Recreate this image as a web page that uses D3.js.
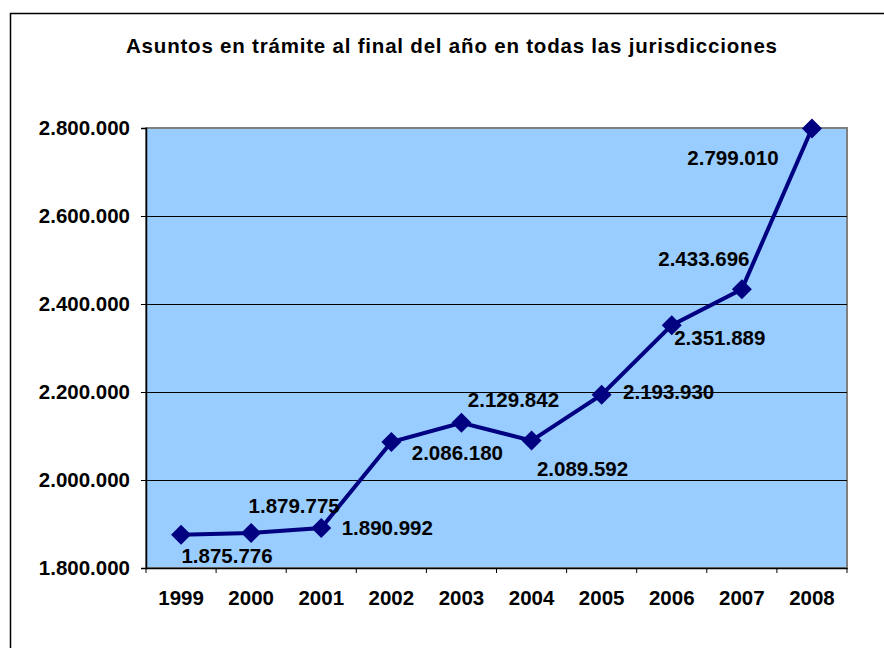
<!DOCTYPE html>
<meta charset="utf-8">
<style>
  body { margin: 0; background: #fff; }
  text { font-family: "Liberation Sans", Arial, sans-serif; font-weight: bold; fill: #000; }
</style>
<script src="https://d3js.org/d3.v7.min.js"></script>
<div id="chart"></div>
<script>
// data
var years = ["1999", "2000", "2001", "2002", "2003", "2004", "2005", "2006", "2007", "2008"];
var asuntos = [1875776, 1879775, 1890992, 2086180, 2129842, 2089592, 2193930, 2351889, 2433696, 2799010];
var yTicks = [1800000, 2000000, 2200000, 2400000, 2600000, 2800000];
var title = "Asuntos en trámite al final del año en todas las jurisdicciones";

// where Excel dropped each data label, relative to its point (dx to centre, dy to baseline)
var labelNudge = [[46, 28], [43, -20], [66, 7], [66, 18], [52, -16],
                  [51, 35], [67, 4], [48, 20], [-38, -23], [-79, 37]];

var W = 884, H = 648;
var plot = {left: 146, top: 128, right: 847, bottom: 568};

var svg = d3.select("#chart").append("svg")
  .attr("width", W).attr("height", H);

// outer chart frame (runs off the right and bottom)
svg.append("rect")
  .attr("x", 10.5).attr("y", 13.5)
  .attr("width", 900).attr("height", 700)
  .attr("fill", "none").attr("stroke", "#000").attr("stroke-width", 1.5);

var x = d3.scaleBand().domain(years).range([plot.left, plot.right]);
var y = d3.scaleLinear().domain([1800000, 2800000]).range([plot.bottom, plot.top]);

// plot area
svg.append("rect")
  .attr("x", plot.left).attr("y", plot.top)
  .attr("width", plot.right - plot.left).attr("height", plot.bottom - plot.top)
  .attr("fill", "#99ccff").attr("stroke", "#808080").attr("stroke-width", 2);

// gridlines
svg.append("g")
  .selectAll("line")
  .data(yTicks.slice(1, -1))
  .enter().append("line")
  .attr("x1", plot.left).attr("x2", plot.right)
  .attr("y1", function(d) { return Math.round(y(d)) + 0.5; })
  .attr("y2", function(d) { return Math.round(y(d)) + 0.5; })
  .attr("stroke", "#000").attr("stroke-width", 1);

var fmt = function(d) { return d3.format(",")(d).replace(/,/g, "."); };

// y axis
var yAxis = svg.append("g")
  .attr("transform", "translate(" + plot.left + ",0)")
  .call(d3.axisLeft(y).tickValues(yTicks).tickFormat(fmt).tickSize(5).tickPadding(11));
yAxis.selectAll("text").style("font-size", "20.5px");
yAxis.selectAll("line, path").attr("stroke", "#000");
yAxis.select(".domain").attr("stroke-width", 1.5);

// x axis
var xAxis = svg.append("g")
  .attr("transform", "translate(0," + plot.bottom + ")")
  .call(d3.axisBottom(x).tickSize(0).tickPadding(22));
xAxis.selectAll("text").style("font-size", "20.5px");
xAxis.select(".domain").attr("stroke", "#000").attr("stroke-width", 1.5);

// category separators on x axis
svg.append("g")
  .selectAll("line")
  .data(years.concat(["end"]))
  .enter().append("line")
  .attr("x1", function(d, i) { return plot.left + i * x.bandwidth(); })
  .attr("x2", function(d, i) { return plot.left + i * x.bandwidth(); })
  .attr("y1", plot.bottom).attr("y2", plot.bottom + 5)
  .attr("stroke", "#000");

var cx = function(i) { return x(years[i]) + x.bandwidth() / 2; };

// line
svg.append("path")
  .datum(asuntos)
  .attr("fill", "none")
  .attr("stroke", "#000080")
  .attr("stroke-width", 4)
  .attr("d", d3.line().x(function(d, i) { return cx(i); }).y(function(d) { return y(d); }));

// diamond markers
svg.append("g")
  .selectAll("path")
  .data(asuntos)
  .enter().append("path")
  .attr("transform", function(d, i) { return "translate(" + cx(i) + "," + y(d) + ")"; })
  .attr("d", "M0,-10L10,0L0,10L-10,0Z")
  .attr("fill", "#000080");

// data labels
svg.append("g")
  .selectAll("text")
  .data(asuntos)
  .enter().append("text")
  .attr("x", function(d, i) { return cx(i) + labelNudge[i][0]; })
  .attr("y", function(d, i) { return y(d) + labelNudge[i][1]; })
  .attr("text-anchor", "middle")
  .style("font-size", "20.5px")
  .text(fmt);

// title
svg.append("text")
  .attr("x", 451.5).attr("y", 53)
  .attr("text-anchor", "middle")
  .attr("textLength", 651)
  .attr("lengthAdjust", "spacing")
  .style("font-size", "20.5px")
  .text(title);
</script>
